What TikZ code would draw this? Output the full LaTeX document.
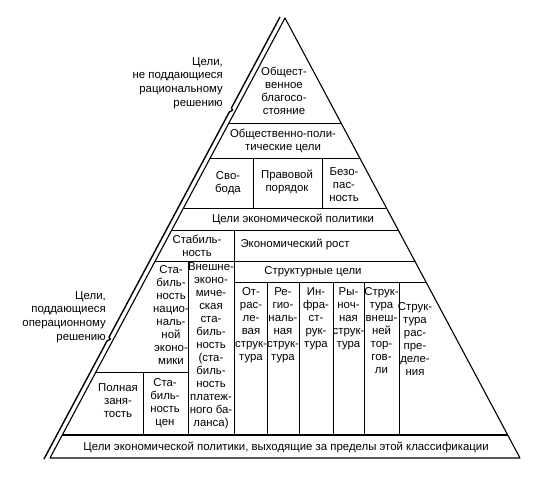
\documentclass[tikz,border=0pt]{standalone}
\usepackage{fontspec}
\setmainfont{Liberation Sans}
\begin{document}
\begin{tikzpicture}[x=1pt,y=-1pt,
  edge/.style={line width=1.1pt, line join=round},
  thin/.style={line width=0.9pt},
  txt/.style={align=center, inner sep=0pt, font=\fontsize{11.4}{13}\selectfont},
  side/.style={align=right, inner sep=0pt, font=\fontsize{11.4}{13.8}\selectfont}]
\useasboundingbox (0,0) rectangle (544,480);
% frame
\coordinate (A) at (285,18);
\coordinate (BL) at (50,458);
\coordinate (BR) at (520,458);
\draw[edge] (BL) -- (A) -- (BR) -- cycle;
% outer line with kinks
\draw[line width=1.4pt, line join=round] (280,17) -- (231.4,108) -- (232.6,110.2) -- (229.3,112) -- (109.1,337) -- (110.3,339.2) -- (107,341) -- (44,459);
% horizontal lines
\draw[thin] (228.9,123) -- (341.1,123);
\draw[thin] (210.2,158) -- (359.8,158);
\draw[thin] (183.5,208) -- (386.5,208);
\draw[thin] (171.8,230) -- (398.2,230);
\draw[thin] (155.2,261) -- (414.8,261);
\draw[thin] (234,282) -- (426,282);
\draw[thin] (95.9,372) -- (188,372);
\draw[edge] (62.3,435) -- (507.7,435);
% verticals
\draw[thin] (253,158) -- (253,208);
\draw[thin] (322,158) -- (322,208);
\draw[thin] (234,230) -- (234,435);
\draw[thin] (188,261) -- (188,435);
\draw[thin] (143,372) -- (143,435);
\foreach \x in {267,299,333,364,399} \draw[thin] (\x,282) -- (\x,435);
% texts
\node[txt] (t1) at (284,91) {Общест-\\венное\\благосо-\\стояние};
\node[txt] (t2) at (283,141) {Общественно-поли-\\тические цели};
\node[txt] (t3) at (228,183) {Сво-\\бода};
\node[txt] (t4) at (287,182) {Правовой\\порядок};
\node[txt] (t5) at (344,185) {Безо-\\пас-\\ность};
\node[txt] (t6) at (293,219) {Цели экономической политики};
\node[txt] (t7) at (197,246) {Стабиль-\\ность};
\node[txt] (t8) at (295,244) {Экономический рост};
\node[txt] (t9) at (313,272) {Структурные цели};
\node[txt] (t10) at (171,315) {Ста-\\биль-\\ность\\нацио-\\наль-\\ной\\эконо-\\мики};
\node[txt] (t11) at (211,346) {Внешне-\\эконо-\\миче-\\ская\\ста-\\биль-\\ность\\(ста-\\биль-\\ность\\платеж-\\ного ба-\\ланса)};
\node[txt] (t12) at (118,401) {Полная\\заня-\\тость};
\node[txt] (t13) at (165,403) {Ста-\\биль-\\ность\\цен};
\node[txt,anchor=north] (t14) at (251,287) {От-\\рас-\\ле-\\вая\\струк-\\тура};
\node[txt,anchor=north] (t15) at (283,287) {Ре-\\гио-\\наль-\\ная\\струк-\\тура};
\node[txt,anchor=north] (t16) at (316,287) {Ин-\\фра-\\ст-\\рук-\\тура};
\node[txt,anchor=north] (t17) at (348.5,287) {Ры-\\ноч-\\ная\\струк-\\тура};
\node[txt,anchor=north] (t18) at (381.5,287) {Струк-\\тура\\внеш-\\ней\\тор-\\гов-\\ли};
\node[txt,anchor=north] (t19) at (415,302) {Струк-\\тура\\рас-\\пре-\\деле-\\ния};
\node[txt] (t20) at (286,447) {Цели экономической политики, выходящие за пределы этой классификации};
\node[side,anchor=east] (l1) at (223,83) {Цели,\\не поддающиеся\\рациональному\\решению};
\node[side,anchor=east] (l2) at (106,317) {Цели,\\поддающиеся\\операционному\\решению};
\end{tikzpicture}
\end{document}
